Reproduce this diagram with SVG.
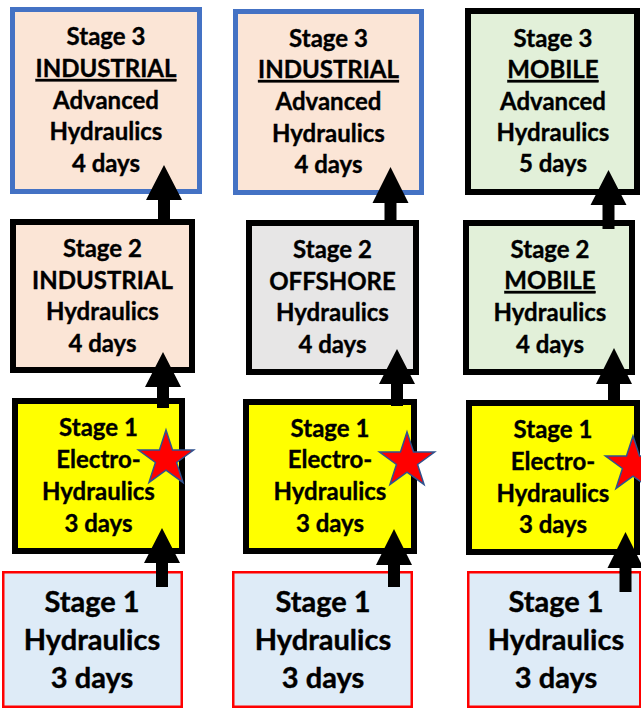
<svg xmlns="http://www.w3.org/2000/svg" xmlns:xlink="http://www.w3.org/1999/xlink" width="641" height="712" viewBox="0 0 641 712">
<style>
.t{font-family:Lato,"Liberation Sans",sans-serif;font-weight:bold;font-size:24px;text-anchor:middle;fill:#000;stroke:#000;stroke-width:0.35px}
.b{font-family:Lato,"Liberation Sans",sans-serif;font-weight:bold;font-size:29px;text-anchor:middle;fill:#000;stroke:#000;stroke-width:0.4px}
.u{text-decoration:underline}
.blue{stroke:#4472C4;stroke-width:5}
.blk{stroke:#000;stroke-width:6}
.red{stroke:#FF0000;stroke-width:2.5}
.peach{fill:#FBE5D6}
.grey{fill:#E7E6E6}
.green{fill:#E2F0D9}
.yel{fill:#FFFF00}
.lb{fill:#DEEBF7}
.arr{fill:#000}
.star{fill:#FF0000;stroke:#2F528F;stroke-width:1.5}
</style>
<defs>
<polygon id="starShape" points="0,-29 6.52,-8.98 27.58,-8.96 10.56,3.43 17.05,23.46 0,11.1 -17.05,23.46 -10.56,3.43 -27.58,-8.96 -6.52,-8.98"/>
</defs>
<rect width="641" height="712" fill="#fff"/>

<g id="c1-s3"><rect class="blue peach" x="12.5" y="9.5" width="187" height="182"/>
<text class="t" x="106" y="45">Stage 3</text><text class="t u" x="106" y="77">INDUSTRIAL</text><text class="t" x="106" y="109">Advanced</text><text class="t" x="106" y="140">Hydraulics</text><text class="t" x="106" y="172">4 days</text></g>
<g id="c1-s2"><rect class="blk peach" x="13" y="222" width="179" height="148"/>
<text class="t" x="102.5" y="257">Stage 2</text><text class="t" x="102.5" y="289">INDUSTRIAL</text><text class="t" x="102.5" y="320">Hydraulics</text><text class="t" x="102.5" y="352">4 days</text></g>
<g id="c1-s1e"><rect class="blk yel" x="15" y="401" width="167" height="150"/>
<text class="t" x="98.5" y="436">Stage 1</text><text class="t" x="98.5" y="468">Electro-</text><text class="t" x="98.5" y="500">Hydraulics</text><text class="t" x="98.5" y="532">3 days</text></g>
<g id="c1-s1"><rect class="red lb" x="3.25" y="572.25" width="178.5" height="134.5"/>
<text class="b" x="92" y="612">Stage 1</text><text class="b" x="92" y="650">Hydraulics</text><text class="b" x="92" y="688">3 days</text></g>

<g id="c2-s3"><rect class="blue peach" x="235.5" y="11.5" width="186" height="181"/>
<text class="t" x="328.5" y="47">Stage 3</text><text class="t u" x="328.5" y="78">INDUSTRIAL</text><text class="t" x="328.5" y="110">Advanced</text><text class="t" x="328.5" y="142">Hydraulics</text><text class="t" x="328.5" y="173">4 days</text></g>
<g id="c2-s2"><rect class="blk grey" x="249" y="223" width="167" height="149"/>
<text class="t" x="332.5" y="258">Stage 2</text><text class="t" x="332.5" y="290">OFFSHORE</text><text class="t" x="332.5" y="321">Hydraulics</text><text class="t" x="332.5" y="353">4 days</text></g>
<g id="c2-s1e"><rect class="blk yel" x="246" y="402" width="168" height="149"/>
<text class="t" x="330" y="437">Stage 1</text><text class="t" x="330" y="468">Electro-</text><text class="t" x="330" y="500">Hydraulics</text><text class="t" x="330" y="532">3 days</text></g>
<g id="c2-s1"><rect class="red lb" x="233.25" y="572.25" width="178.5" height="134.5"/>
<text class="b" x="323" y="612">Stage 1</text><text class="b" x="323" y="650">Hydraulics</text><text class="b" x="323" y="688">3 days</text></g>

<g id="c3-s3"><rect class="blk green" x="468" y="11" width="169" height="181"/>
<text class="t" x="553" y="47">Stage 3</text><text class="t u" x="553" y="78">MOBILE</text><text class="t" x="553" y="110">Advanced</text><text class="t" x="553" y="141">Hydraulics</text><text class="t" x="553" y="172">5 days</text></g>
<g id="c3-s2"><rect class="blk green" x="466" y="223" width="166" height="149"/>
<text class="t" x="550" y="258">Stage 2</text><text class="t u" x="550" y="289">MOBILE</text><text class="t" x="550" y="321">Hydraulics</text><text class="t" x="550" y="353">4 days</text></g>
<g id="c3-s1e"><rect class="blk yel" x="469" y="403" width="168" height="149"/>
<text class="t" x="553" y="438">Stage 1</text><text class="t" x="553" y="470">Electro-</text><text class="t" x="553" y="502">Hydraulics</text><text class="t" x="553" y="533">3 days</text></g>
<g id="c3-s1"><rect class="red lb" x="468.25" y="572.25" width="172" height="134.5"/>
<text class="b" x="556" y="612">Stage 1</text><text class="b" x="556" y="650">Hydraulics</text><text class="b" x="556" y="688">3 days</text></g>

<g id="connectors">
<polygon class="arr" points="164,165 182,200 170,200 170,221 158,221 158,200 146,200"/>
<polygon class="arr" points="163,352 181,387 169,387 169,408 157,408 157,387 145,387"/>
<polygon class="arr" points="162,528 180,563 168,563 168,587 156,587 156,563 144,563"/>
<polygon class="arr" points="390.5,167 408.5,203 396.5,203 396.5,226 384.5,226 384.5,203 372.5,203"/>
<polygon class="arr" points="397,349 415,384 403,384 403,406 391,406 391,384 379,384"/>
<polygon class="arr" points="394,529 412,565 400,565 400,587 388,587 388,565 376,565"/>
<polygon class="arr" points="608.5,170 626.5,205 614.5,205 614.5,229 602.5,229 602.5,205 590.5,205"/>
<polygon class="arr" points="614,348 632,384 620,384 620,406 608,406 608,384 596,384"/>
<polygon class="arr" points="625.5,532 643.5,568 631.5,568 631.5,592 619.5,592 619.5,568 607.5,568"/>
</g>

<g id="stars">
<use xlink:href="#starShape" class="star" transform="translate(166,459)"/>
<use xlink:href="#starShape" class="star" transform="translate(407,461)"/>
<use xlink:href="#starShape" class="star" transform="translate(633,465)"/>
</g>
</svg>
